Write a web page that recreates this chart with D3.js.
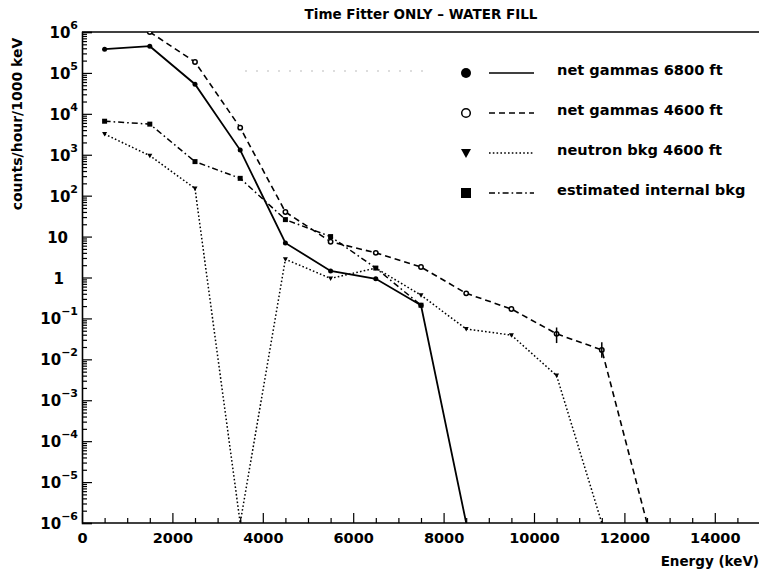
<!DOCTYPE html>
<html><head><meta charset="utf-8">
<script src="https://cdn.jsdelivr.net/npm/d3@7"></script>
<style>
body{margin:0;background:#fff;}
svg{display:block;font-family:"DejaVu Sans",sans-serif;font-weight:bold;}
</style></head>
<body>
<svg id="c" width="759" height="571"></svg>
<script>
// ---- data ----
const title = "Time Fitter ONLY \u2013 WATER FILL";
const yLabel = "counts/hour/1000 keV";
const xLabel = "Energy (keV)";
const energies = [500,1500,2500,3500,4500,5500,6500,7500,8500,9500,10500,11500,12500];
const gammas6800 = [3.8e5,4.5e5,5.3e4,1300,7,1.45,0.93,0.21,1e-6];
const gammas4600E = [1500,2500,3500,4500,5500,6500,7500,8500,9500,10500,11500,12500];
const gammas4600 = [1.0e6,1.85e5,4600,40,7.5,4,1.8,0.41,0.17,0.042,0.017,1e-6];
const neutron4600 = [3200,950,150,1e-6,2.8,0.95,1.7,0.37,0.055,0.039,0.004,1e-6];
const internalBkg = [6600,5600,680,265,26,10,1.7,0.21];
const errE = [10500,11500];
const errLo = [0.025,0.011];
const errHi = [0.06,0.026];
const xMajor = [0,2000,4000,6000,8000,10000,12000,14000];
const xMinor = d3.range(0,15001,500);
const yExps = [6,5,4,3,2,1,0,-1,-2,-3,-4,-5,-6];
const legendNames = ["net gammas 6800 ft","net gammas 4600 ft","neutron bkg 4600 ft","estimated internal bkg"];

// ---- layout ----
const svg = d3.select("#c");
const L=82, R=760, T=32, B=523;
const x = d3.scaleLinear().domain([0,15000]).range([L,R]);
const y = d3.scaleLog().domain([1e-6,1e6]).range([B,T]);

// title
svg.append("text").attr("x",421).attr("y",19).attr("text-anchor","middle")
  .attr("font-size",13.5).text(title);

// y label
svg.append("text").attr("transform","translate(22,124) rotate(-90)")
  .attr("text-anchor","middle").attr("font-size",14).text(yLabel);

// x label
svg.append("text").attr("x",759).attr("y",566).attr("text-anchor","end")
  .attr("font-size",13.5).text(xLabel);

// frame lines
svg.append("line").attr("x1",L).attr("x2",R).attr("y1",T).attr("y2",T).attr("stroke","#000").attr("stroke-width",1.6);

// y axis major
const yAx = svg.append("g").attr("transform",`translate(${L},0)`)
  .call(d3.axisLeft(y).tickValues(yExps.map(e=>Math.pow(10,e))).tickSize(-10).tickFormat(""));
// y minor
const yMinorVals=[];
for(let e=-6;e<6;e++) for(let k=2;k<=9;k++) yMinorVals.push(k*Math.pow(10,e));
svg.append("g").attr("transform",`translate(${L},0)`)
  .call(d3.axisLeft(y).tickValues(yMinorVals).tickSize(-5).tickFormat(""))
  .call(g=>g.select(".domain").remove());
yAx.select(".domain").attr("stroke-width",1.6);
svg.selectAll(".tick line").attr("stroke-width",1.2);

// y tick labels
yExps.forEach(e=>{
  const yy=y(Math.pow(10,e));
  if(e===1){
    svg.append("text").attr("x",68).attr("y",yy+6).attr("text-anchor","end").attr("font-size",15).text("10");
  } else if(e===0){
    svg.append("text").attr("x",64).attr("y",yy+6).attr("text-anchor","end").attr("font-size",15).text("1");
  } else {
    const t=svg.append("text").attr("x",78).attr("y",yy+6).attr("text-anchor","end").attr("font-size",15);
    t.append("tspan").text("10");
    t.append("tspan").attr("font-size",11).attr("dy",-9).text(e<0?"\u2212"+(-e):String(e));
  }
});

// x axis
const xAx = svg.append("g").attr("transform",`translate(0,${B})`)
  .call(d3.axisBottom(x).tickValues(xMajor).tickSize(-10).tickPadding(10).tickFormat(d=>d));
xAx.select(".domain").attr("stroke-width",1.6).attr("d",`M${L},0H${R}`);
xAx.selectAll("text").attr("font-size",14.5).attr("font-family","DejaVu Sans").attr("font-weight","bold").attr("fill","#000");
svg.append("g").attr("transform",`translate(0,${B})`)
  .call(d3.axisBottom(x).tickValues(xMinor.filter(v=>v%2000!==0)).tickSize(-5).tickFormat(""))
  .call(g=>g.select(".domain").remove());
svg.selectAll(".tick line").attr("stroke-width",1.2);

// clip
svg.append("clipPath").attr("id","clip").append("rect").attr("x",L).attr("y",T).attr("width",R-L).attr("height",B-T);
const plot = svg.append("g").attr("clip-path","url(#clip)");

// faint scan artifact line
plot.append("line").attr("x1",245).attr("x2",430).attr("y1",71).attr("y2",71)
  .attr("stroke","#bbb").attr("stroke-width",1).attr("stroke-dasharray","2,9");

const line = d3.line().x(d=>x(d[0])).y(d=>y(d[1]));
const series = [
  {e:energies, v:gammas6800, dash:null, w:1.8, m:"fc"},
  {e:gammas4600E, v:gammas4600, dash:"6,4", w:1.6, m:"oc"},
  {e:energies, v:neutron4600, dash:"1.6,2.2", w:1.5, m:"tri"},
  {e:energies, v:internalBkg, dash:"6,3,1.6,3", w:1.5, m:"sq"}
];
function marker(g,type,cx,cy,s){
  if(type==="fc") g.append("circle").attr("cx",cx).attr("cy",cy).attr("r",s).attr("fill","#000");
  else if(type==="oc") g.append("circle").attr("cx",cx).attr("cy",cy).attr("r",s).attr("fill","#fff").attr("stroke","#000").attr("stroke-width",1.5);
  else if(type==="tri") g.append("path").attr("d",`M${cx-s},${cy-s*0.8}L${cx+s},${cy-s*0.8}L${cx},${cy+s}Z`).attr("fill","#000");
  else g.append("rect").attr("x",cx-s).attr("y",cy-s).attr("width",2*s).attr("height",2*s).attr("fill","#000");
}
series.forEach(s=>{
  const pts = s.v.map((v,i)=>[s.e[i],v]);
  plot.append("path").datum(pts).attr("d",line).attr("fill","none").attr("stroke","#000")
    .attr("stroke-width",s.w).attr("stroke-dasharray",s.dash);
  pts.forEach(p=>{ if(p[1]>1e-6) marker(plot,s.m,x(p[0]),y(p[1]),s.m==="oc"?2.2:2.5); });
});
// error bars
errE.forEach((e,i)=>{
  plot.append("line").attr("x1",x(e)).attr("x2",x(e)).attr("y1",y(errLo[i])).attr("y2",y(errHi[i]))
    .attr("stroke","#000").attr("stroke-width",1.5);
});

// legend
const rows=[73,113,153,193];
const legTypes=["fc","oc","tri","sq"];
rows.forEach((ry,i)=>{
  marker(svg,legTypes[i],466,ry,legTypes[i]==="oc"?4.3:5);
  svg.append("line").attr("x1",489).attr("x2",534).attr("y1",ry).attr("y2",ry)
    .attr("stroke","#000").attr("stroke-width",1.3).attr("stroke-dasharray",series[i].dash);
  svg.append("text").attr("x",557).attr("y",ry+2).attr("font-size",14.6).text(legendNames[i]);
});
</script>
</body></html>
